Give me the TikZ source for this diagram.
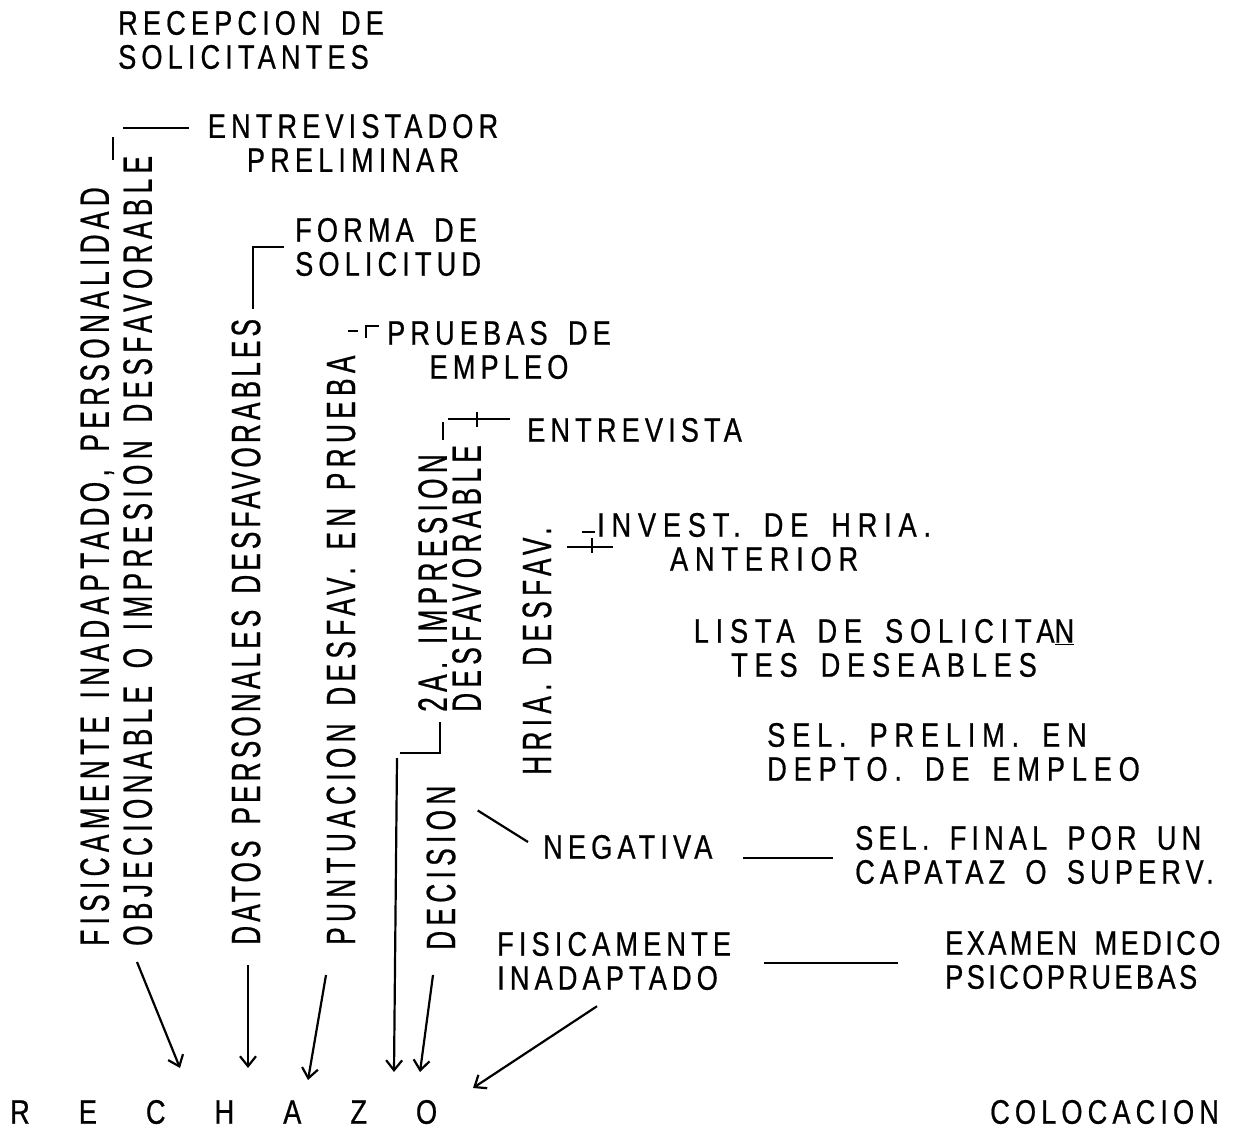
\documentclass[tikz,border=0pt]{standalone}
\usepackage{fontspec}
\newfontfamily\letra{Liberation Sans}[FakeStretch=0.8,LetterSpace=15,WordSpace=1.6,FakeBold=0.6]
\newfontfamily\letrav{Liberation Sans}[FakeStretch=0.64,LetterSpace=13,WordSpace=1.4,FakeBold=0.6]
\usetikzlibrary{arrows.meta}
\newcommand{\spread}{\hspace{49pt}}

\begin{document}
\begin{tikzpicture}[x=1pt,y=-1pt,font=\letra\fontsize{34}{34}\selectfont,
  lbl/.style={inner sep=0pt,align=left},
  clbl/.style={inner sep=0pt,align=center},
  wide/.style={font=\letra\addfontfeature{LetterSpace=20}\fontsize{34}{34}\selectfont},
  vlbl/.style={inner sep=0pt,align=left,rotate=90,font=\letrav\fontsize{41}{36}\selectfont},
  link/.style={line width=2.2pt},
  toref/.style={line width=2.2pt,-{Straight Barb[length=10pt,width=16pt]}}]
  \useasboundingbox (0,0) rectangle (1247,1135);

  % steps of the procedure
  \node[lbl,anchor=west] (recep) at (118,40) {RECEPCION DE\\SOLICITANTES};
  \node[clbl] (entprel) at (353,143) {ENTREVISTADOR\\PRELIMINAR};
  \node[lbl,anchor=west] (forma) at (295,247) {FORMA DE\\SOLICITUD};
  \node[clbl] (pruebas) at (499,350) {PRUEBAS DE\\EMPLEO};
  \node[lbl,anchor=west] (entrev) at (527,430) {ENTREVISTA};
  \node[clbl,wide,anchor=west] (invest) at (597,542) {INVEST. DE HRIA.\\ANTERIOR};
  \node[clbl,wide] (lista) at (884,648) {LISTA DE SOLICITA\underline{N}\\TES DESEABLES};
  \node[lbl,wide,anchor=west] (selprel) at (767,752) {SEL. PRELIM. EN\\DEPTO. DE EMPLEO};
  \node[lbl,anchor=west] (negativa) at (543,847) {NEGATIVA};
  \node[lbl,anchor=west] (selfinal) at (855,855) {SEL. FINAL POR UN\\CAPATAZ O SUPERV.};
  \node[lbl,anchor=west] (fisica) at (497,961) {FISICAMENTE\\INADAPTADO};
  \node[lbl,anchor=west,font=\letra\addfontfeature{LetterSpace=10}\fontsize{34}{34}\selectfont]
    (examen) at (945,960) {EXAMEN MEDICO\\PSICOPRUEBAS};
  \node[lbl,anchor=west] (rechazo) at (10,1112) {R\spread E\spread C\spread H\spread A\spread Z\spread O};
  \node[lbl,anchor=west] (coloc) at (990,1112) {COLOCACION};

  % reasons for rejection
  \node[vlbl,anchor=north west] (v1) at (80,946)
    {FISICAMENTE INADAPTADO, PERSONALIDAD\\[7pt]OBJECIONABLE O IMPRESION DESFAVORABLE};
  \node[vlbl,anchor=west,font=\letrav\addfontfeature{LetterSpace=10}\fontsize{41}{36}\selectfont]
    (v2) at (246,945) {DATOS PERSONALES DESFAVORABLES};
  \node[vlbl,anchor=west] (v3) at (341,945) {PUNTUACION DESFAV. EN PRUEBA};
  \node[vlbl,anchor=north west] (v4) at (418,712) {2A. IMPRESION\\[-2pt]DESFAVORABLE};
  \node[vlbl,anchor=west] (v5) at (537,775) {HRIA. DESFAV.};
  \node[vlbl,anchor=west] (v6) at (441,950) {DECISION};

  % ticks up to the steps
  \coordinate (k1) at (113,160);
  \coordinate (k1b) at (123,128);
  \draw[link] (k1) -- ++(0,-23);
  \draw[link,shorten >=19pt] (k1b) -- (k1b -| entprel.west);
  \draw[link,shorten >=11pt] ([shift={(7,-10)}]v2.east) |- (forma.west);
  \coordinate (k3) at (366,338);
  \draw[link] (348,331) -- ++(10,0);
  \draw[link,shorten >=8pt] (k3) |- ([shift={(0,5)}]pruebas.north west);
  \coordinate (k4) at (448,419);
  \draw[link] (443,440) -- ++(0,-18);
  \draw[link,shorten >=17pt] (k4) -- (k4 -| entrev.west);
  \draw[link] (477,412) -- ++(0,15);
  \coordinate (k5) at (567,547);
  \draw[link] (k5) -- ++(46,0);
  \draw[link] (592,538) -- ++(0,15);
  \draw[link] (582,532) -- ++(13,0);

  % down to rechazo
  \coordinate (t1) at (180,1068);
  \coordinate (t2) at (248,1068);
  \coordinate (t3) at (308,1080);
  \coordinate (k6) at (397,758);
  \coordinate (t4) at (394,1072);
  \coordinate (t5) at (420,1072);
  \coordinate (t6) at (473,1088);
  \draw[toref] ([shift={(57,16)}]v1.north west) -- (t1);
  \draw[toref] ([shift={(2,20)}]v2.west) -- (t2);
  \draw[toref] ([shift={(-15,30)}]v3.west) -- (t3);
  \draw[link] ([shift={(22,10)}]v4.north west) |- (400,753);
  \draw[toref] (k6) -- (t4);
  \draw[toref] ([shift={(-8,25)}]v6.west) -- (t5);
  \draw[toref] ([shift={(100,16)}]fisica.south west) -- (t6);

  % side links
  \draw[link] ([shift={(22,25)}]v6.south east) -- ([shift={(-15,-5)}]negativa.west);
  \draw[link] ([shift={(30,11)}]negativa.east) -- ([shift={(-22,3)}]selfinal.west);
  \draw[link] ([shift={(33,2)}]fisica.east) -- ([shift={(-47,3)}]examen.west);
\end{tikzpicture}
\end{document}
